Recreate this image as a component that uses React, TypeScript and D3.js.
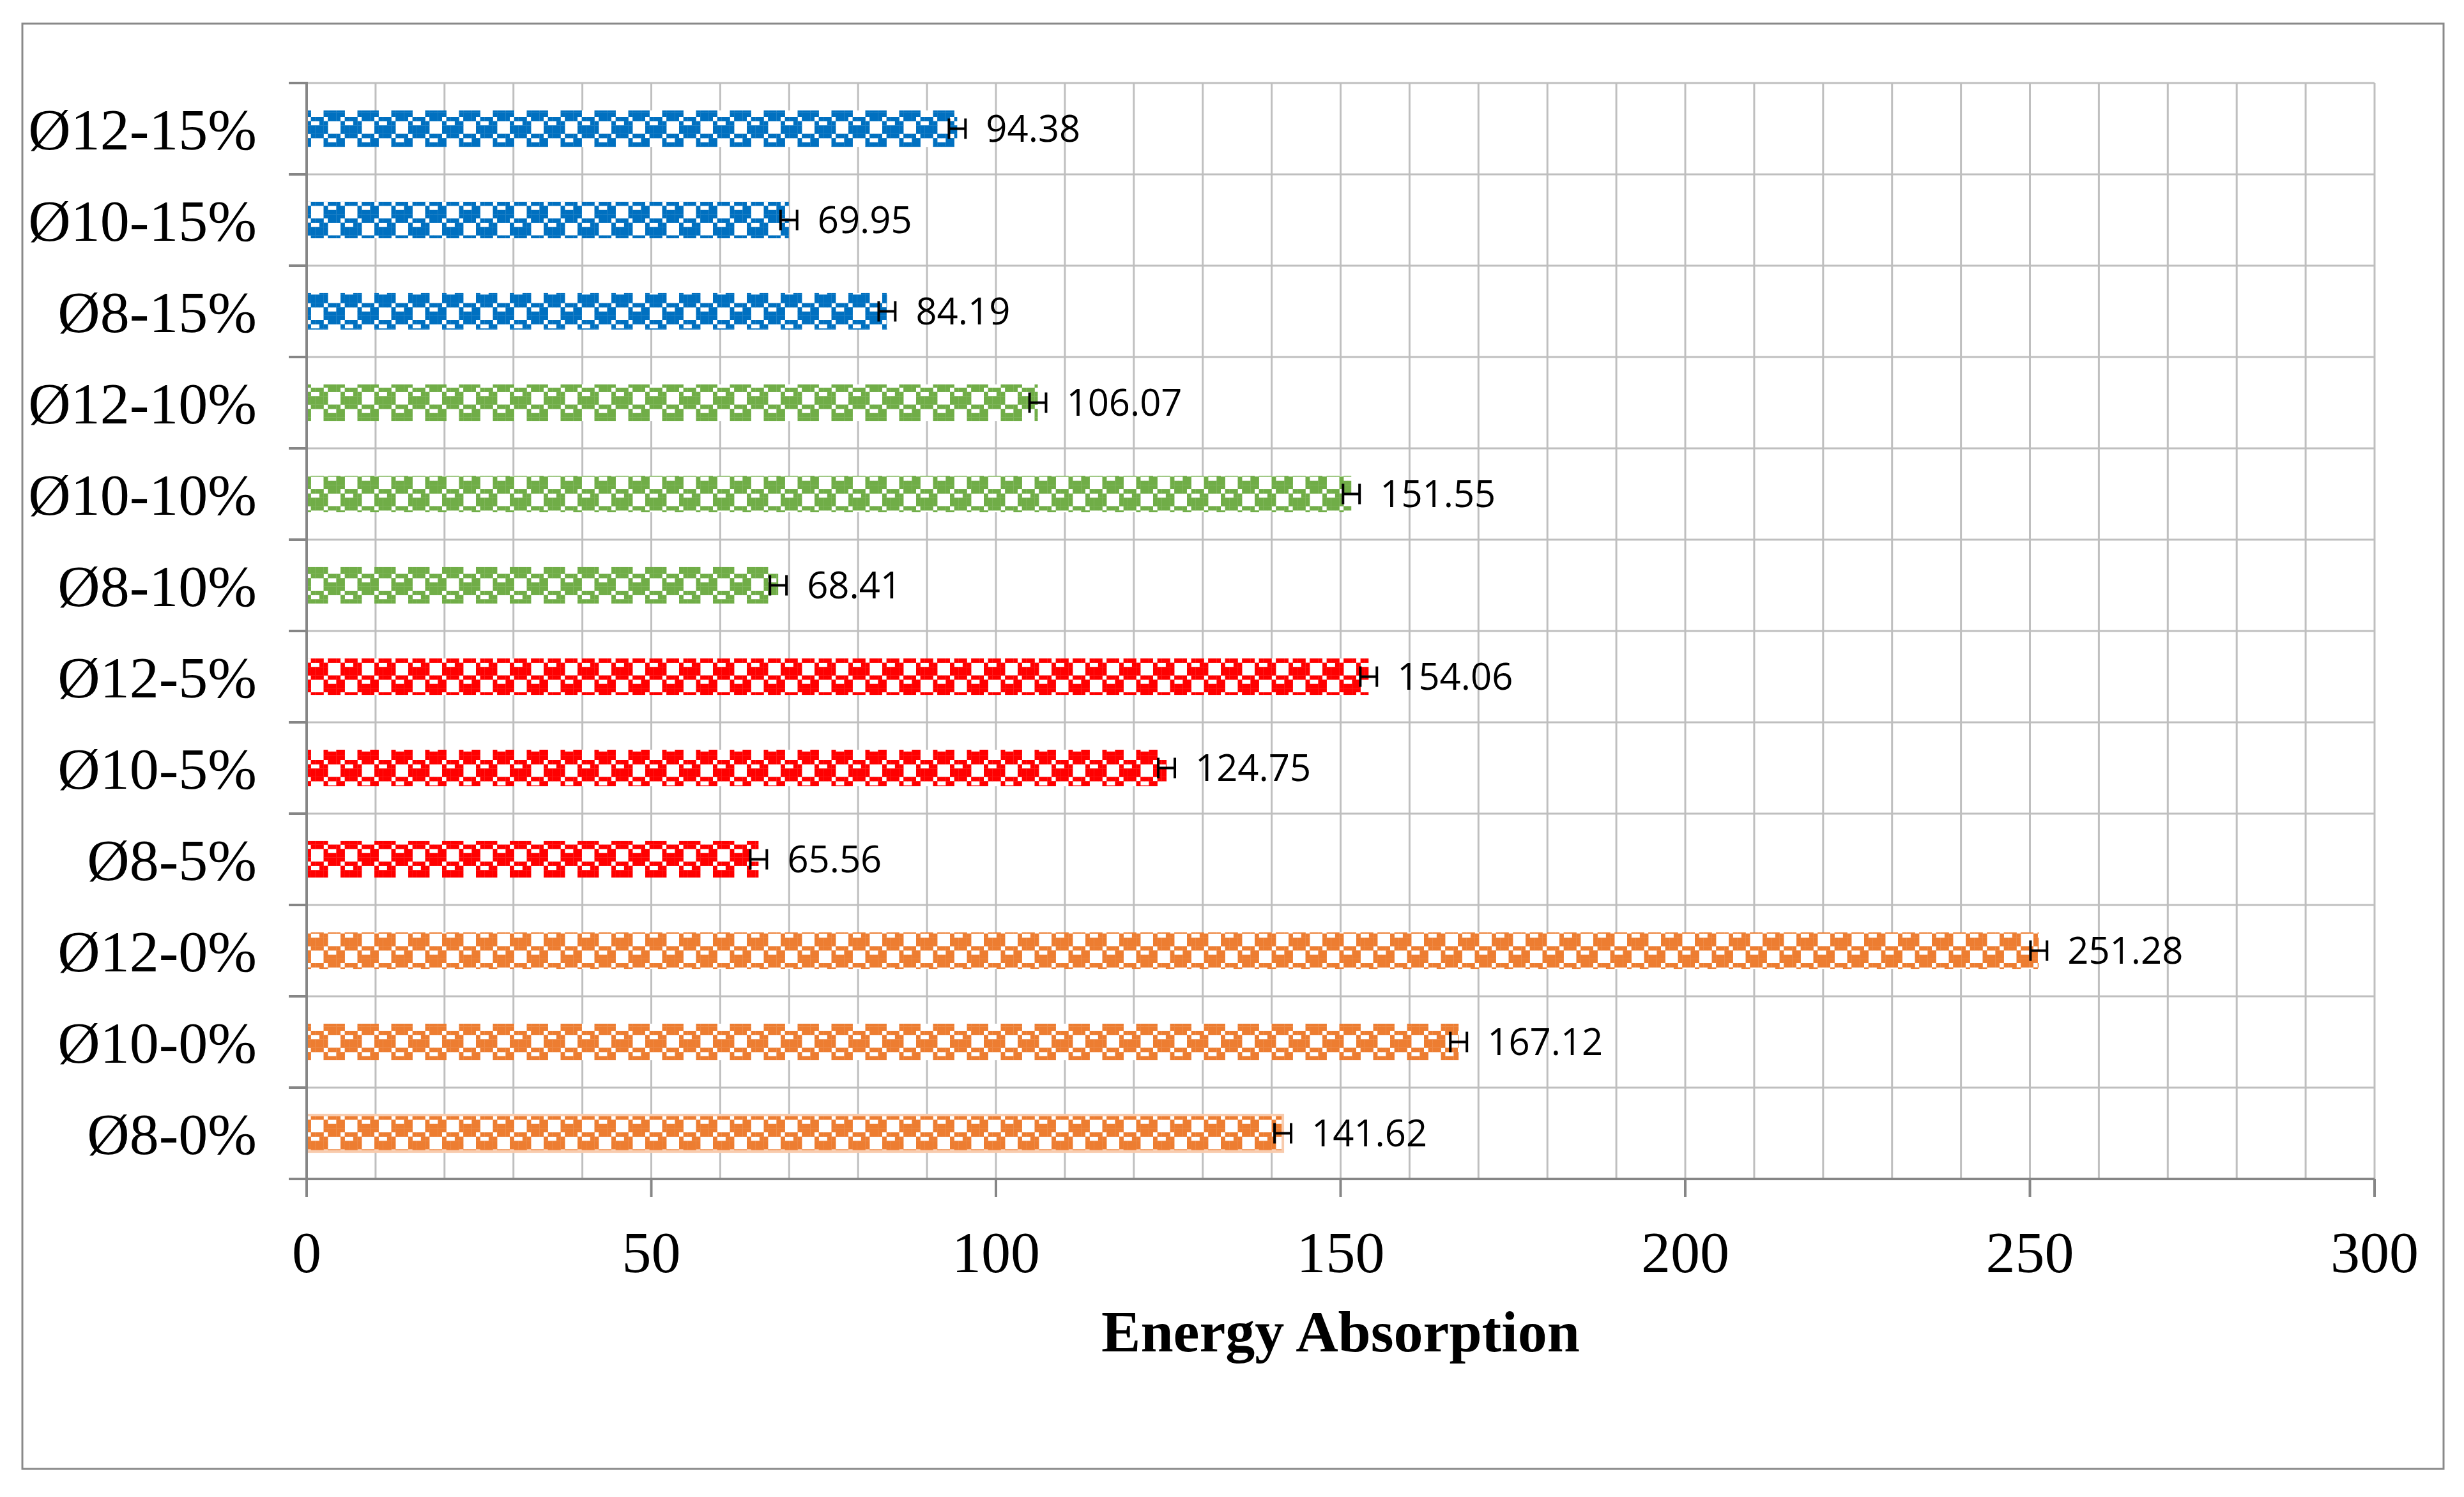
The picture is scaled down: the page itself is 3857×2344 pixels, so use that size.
import * as d3 from "d3";

// bottom to top, as in the chart
const categories = [
  "Ø8-0%", "Ø10-0%", "Ø12-0%",
  "Ø8-5%", "Ø10-5%", "Ø12-5%",
  "Ø8-10%", "Ø10-10%", "Ø12-10%",
  "Ø8-15%", "Ø10-15%", "Ø12-15%"
];
const values = [141.62, 167.12, 251.28, 65.56, 124.75, 154.06, 68.41, 151.55, 106.07, 84.19, 69.95, 94.38];
const errors = [1.2, 1.2, 1.2, 1.2, 1.2, 1.2, 1.2, 1.2, 1.2, 1.2, 1.2, 1.2];
const groups = ["0%", "0%", "0%", "5%", "5%", "5%", "10%", "10%", "10%", "15%", "15%", "15%"];
const groupNames = ["0%", "5%", "10%", "15%"];
const groupColors = ["#ED7D31", "#FF0000", "#70AD47", "#0070C0"];
const xTicks = [0, 50, 100, 150, 200, 250, 300];
const xDomain = [0, 300];
const xTitle = "Energy Absorption";

const W = 3857;
const H = 2344;
const plot = { left: 480, right: 3717, top: 130, bottom: 1846 };

// 8x8 cell bitmap for the Excel-like pattern fill
const cellSize = 53 / 8;
const patternCells: [number, number][] = [];
for (let r = 0; r < 8; r++) {
  for (let c = 0; c < 8; c++) {
    const inA = c <= 4 && r <= 4;
    const inB = (c >= 4 || c === 0) && (r >= 4 || r === 0);
    const hole = (r === 1 && (c === 1 || c === 2)) || (r === 5 && (c === 5 || c === 6));
    if (inA !== inB && !hole) patternCells.push([r, c]);
  }
}

export default function App() {
  const x = d3.scaleLinear(xDomain, [plot.left, plot.right]);
  const order = categories.slice().reverse(); // top first
  const y = d3.scaleBand(order, [plot.top, plot.bottom]).paddingInner(0.6).paddingOuter(0.3);
  const step = y.step();
  const color = d3.scaleOrdinal(groupNames, groupColors);
  const minor = d3.range(xDomain[0], xDomain[1] + 1, 10);
  const boundaries = d3.range(categories.length + 1).map(i => plot.top + i * step);

  const serif = "'Liberation Serif', 'Times New Roman', serif";
  const sans = "'Open Sans', 'Liberation Sans', sans-serif";

  return (
    <svg width={W} height={H} style={{ position: "absolute", left: 0, top: 0, background: "#fff" }}>
      <defs>
        {groupNames.map((g, gi) => (
          <pattern key={g} id={`pat${gi}`} patternUnits="userSpaceOnUse"
            x={plot.left} y={plot.top} width={cellSize * 8} height={cellSize * 8}>
            <rect width={cellSize * 8} height={cellSize * 8} fill="#fff" />
            {patternCells.map(([r, c], i) => (
              <rect key={i} x={c * cellSize} y={r * cellSize}
                width={cellSize + 0.3} height={cellSize + 0.3} fill={color(g)} />
            ))}
          </pattern>
        ))}
      </defs>

      <rect x={35} y={37} width={3790} height={2263} fill="#fff" stroke="#898989" strokeWidth={3} />

      {/* gridlines */}
      <g stroke="#BFBFBF" strokeWidth={3}>
        {minor.map(v => (
          <line key={"v" + v} x1={x(v)} x2={x(v)} y1={plot.top} y2={plot.bottom} />
        ))}
        {boundaries.map((b, i) => (
          <line key={"h" + i} x1={plot.left} x2={plot.right} y1={b} y2={b} />
        ))}
      </g>

      {/* bars */}
      {categories.map((c, i) => (
        <rect key={c} x={x(0)} y={y(c)} width={x(values[i]) - x(0)} height={y.bandwidth()}
          fill={`url(#pat${groupNames.indexOf(groups[i])})`}
          stroke={i === 0 ? "#F8CBAD" : "none"} strokeWidth={i === 0 ? 4 : 0} />
      ))}

      {/* error bars */}
      <g stroke="#000" strokeWidth={4}>
        {categories.map((c, i) => {
          const cy = (y(c) as number) + y.bandwidth() / 2;
          const x0 = x(values[i] - errors[i]);
          const x1 = x(values[i] + errors[i]);
          return (
            <g key={c}>
              <line x1={x0} x2={x1} y1={cy} y2={cy} />
              <line x1={x0} x2={x0} y1={cy - 16} y2={cy + 16} />
              <line x1={x1} x2={x1} y1={cy - 16} y2={cy + 16} />
            </g>
          );
        })}
      </g>

      {/* value labels */}
      {categories.map((c, i) => (
        <text key={c} x={x(values[i]) + 45} y={(y(c) as number) + y.bandwidth() / 2}
          dy="0.36em" fontFamily={sans} fontSize={58} fill="#000">
          {values[i].toFixed(2)}
        </text>
      ))}

      {/* axes */}
      <g stroke="#868686" strokeWidth={4}>
        <line x1={plot.left} x2={plot.left} y1={plot.top - 2} y2={plot.bottom + 28} />
        <line x1={plot.left - 28} x2={plot.right} y1={plot.bottom} y2={plot.bottom} />
        {boundaries.map((b, i) => (
          <line key={"t" + i} x1={plot.left - 28} x2={plot.left} y1={b} y2={b} />
        ))}
        {xTicks.map(v => (
          <line key={"xt" + v} x1={x(v)} x2={x(v)} y1={plot.bottom} y2={plot.bottom + 28} />
        ))}
      </g>

      {/* category labels */}
      {categories.map(c => (
        <text key={c} x={402} y={(y(c) as number) + y.bandwidth() / 2} dy="0.35em"
          textAnchor="end" fontFamily={serif} fontSize={92} fill="#000">
          {c}
        </text>
      ))}

      {/* x tick labels */}
      {xTicks.map(v => (
        <text key={v} x={x(v)} y={1992} textAnchor="middle" fontFamily={serif} fontSize={92} fill="#000">
          {v}
        </text>
      ))}

      <text x={(plot.left + plot.right) / 2} y={2116} textAnchor="middle" fontFamily={serif}
        fontWeight="bold" fontSize={92} fill="#000">
        {xTitle}
      </text>
    </svg>
  );
}
